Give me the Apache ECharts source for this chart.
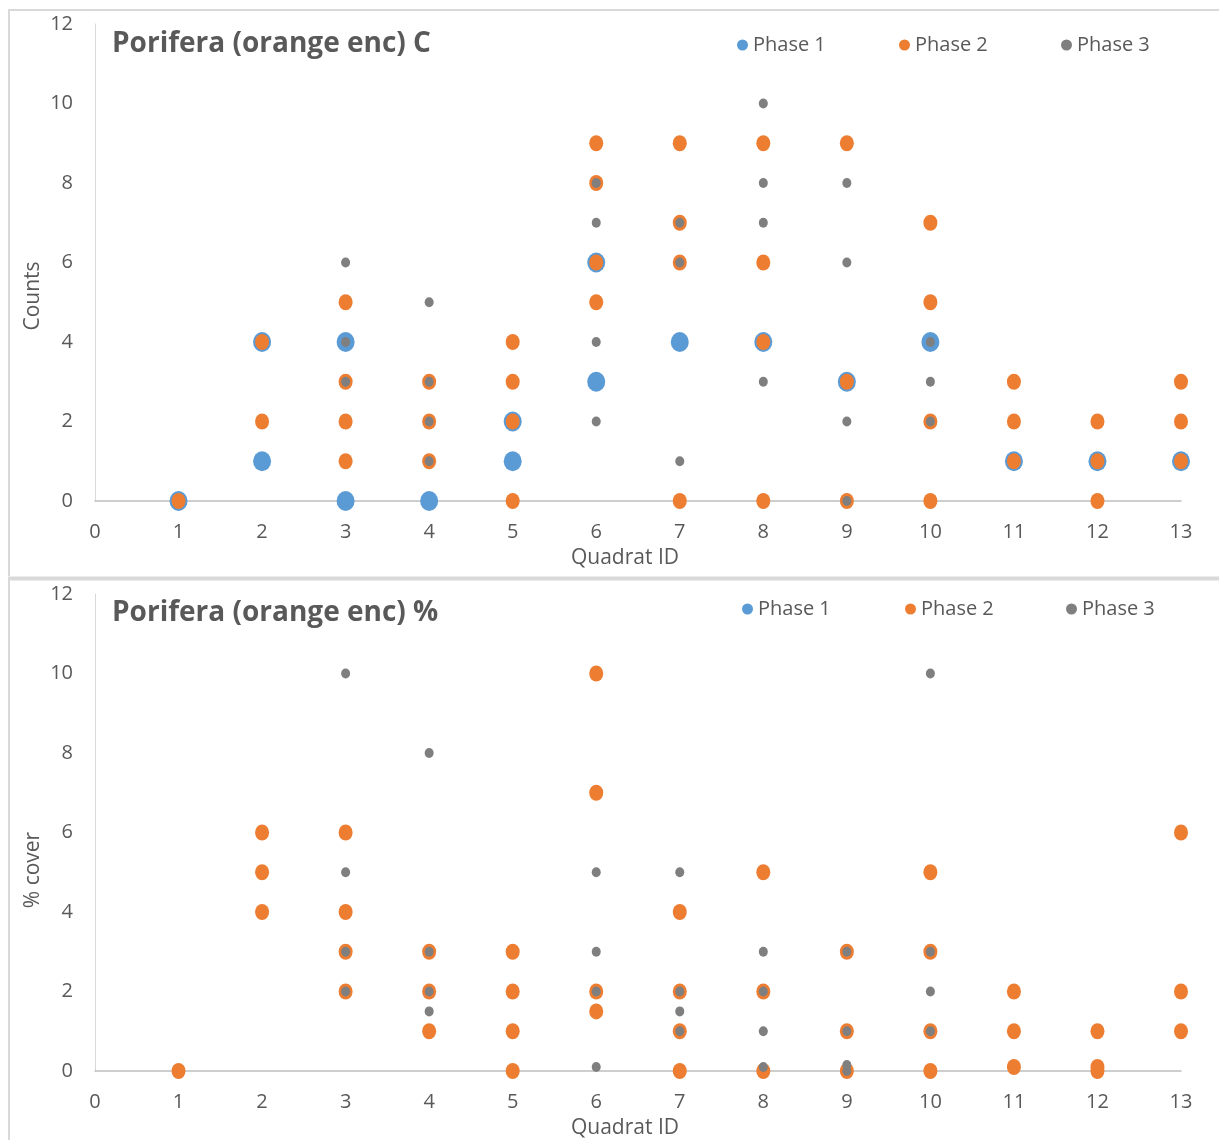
<!DOCTYPE html>
<html>
<head>
<meta charset="utf-8">
<script src="https://cdn.jsdelivr.net/npm/echarts@6/dist/echarts.min.js"></script>
<style>
html,body{margin:0;padding:0;background:#fff;}
#c{width:1219px;height:1140px;}
</style>
</head>
<body>
<div id="c"></div>
<script>
// ---- data ----
var xTicks = [0,1,2,3,4,5,6,7,8,9,10,11,12,13];
var yTicks = [0,2,4,6,8,10,12];
var seriesNames = ['Phase 1','Phase 2','Phase 3'];

// Counts chart: [quadrat, count]
var countsPhase1 = [[1,0],[2,4],[2,1],[3,4],[3,0],[4,0],[5,2],[5,1],[6,6],[6,3],[7,4],[8,4],[9,3],[10,4],[11,1],[12,1],[13,1]];
var countsPhase2 = [[1,0],[2,4],[2,2],[3,5],[3,3],[3,2],[3,1],[4,3],[4,2],[4,1],[5,4],[5,3],[5,2],[5,0],
  [6,9],[6,8],[6,6],[6,5],[7,9],[7,7],[7,6],[7,0],[8,9],[8,6],[8,4],[8,0],[9,9],[9,3],[9,0],
  [10,7],[10,5],[10,2],[10,0],[11,3],[11,2],[11,1],[12,2],[12,1],[12,0],[13,3],[13,2],[13,1]];
var countsPhase3 = [[3,6],[3,4],[3,3],[4,5],[4,3],[4,2],[4,1],[6,8],[6,7],[6,4],[6,2],[7,7],[7,6],[7,1],
  [8,10],[8,8],[8,7],[8,3],[9,8],[9,6],[9,2],[9,0],[10,4],[10,3],[10,2]];

// % cover chart: [quadrat, percent]
var coverPhase1 = [];
var coverPhase2 = [[1,0],[2,6],[2,5],[2,4],[3,6],[3,4],[3,3],[3,2],[4,3],[4,2],[4,1],[5,3],[5,2],[5,1],[5,0],
  [6,10],[6,7],[6,2],[6,1.5],[7,4],[7,2],[7,1],[7,0],[8,5],[8,2],[8,0],[9,3],[9,1],[9,0],
  [10,5],[10,3],[10,1],[10,0],[11,2],[11,1],[11,0.1],[12,1],[12,0.1],[12,0],[13,6],[13,2],[13,1]];
var coverPhase3 = [[3,10],[3,5],[3,3],[3,2],[4,8],[4,3],[4,2],[4,1.5],[6,5],[6,3],[6,2],[6,0.1],
  [7,5],[7,2],[7,1.5],[7,1],[8,3],[8,2],[8,1],[8,0.1],[9,3],[9,1],[9,0.15],[9,0],[10,10],[10,3],[10,2],[10,1]];

var titles = ['Porifera (orange enc) C','Porifera (orange enc) %'];
var yNames = ['Counts','% cover'];
var xName = 'Quadrat ID';

// ---- styles ----
var colors = ['#5B9BD5','#ED7D31','#7F7F7F'];
var sizes = [[18,20],[14,16],[9,10]];
var txt = '#595959';
var font = 'Open Sans';

var chart = echarts.init(document.getElementById('c'), null, {renderer:'canvas'});

var grids = [
  {left:95, right:38, top:24, height:477},
  {left:95, right:38, top:594, height:477}
];

function xAxis(i){
  return {
    type:'value', gridIndex:i, min:0, max:13, interval:1,
    name:xName, nameLocation:'middle', nameGap:47,
    nameTextStyle:{color:txt, fontFamily:font, fontSize:21, padding:[0,26,0,0]},
    axisLine:{show:true, onZero:false, lineStyle:{color:'#bfbfbf', width:1.5}},
    axisTick:{show:false}, splitLine:{show:false},
    axisLabel:{color:txt, fontFamily:font, fontSize:20, margin:21,
      formatter:function(v){ return xTicks.indexOf(v) >= 0 ? String(v) : ''; }}
  };
}
function yAxis(i){
  return {
    type:'value', gridIndex:i, min:0, max:12, interval:2,
    axisLine:{show:true, lineStyle:{color:'#d9d9d9', width:1}},
    axisTick:{show:false}, splitLine:{show:false},
    axisLabel:{color:txt, fontFamily:font, fontSize:20, margin:22,
      formatter:function(v){ return yTicks.indexOf(v) >= 0 ? String(v) : ''; }}
  };
}

var dataSets = [[countsPhase1,countsPhase2,countsPhase3],[coverPhase1,coverPhase2,coverPhase3]];
var series = [];
for (var g=0; g<2; g++){
  for (var s=0; s<3; s++){
    series.push({
      name:seriesNames[s], type:'scatter', xAxisIndex:g, yAxisIndex:g,
      data:dataSets[g][s], symbol:'circle', symbolSize:sizes[s],
      itemStyle:{color:colors[s], opacity:1}, z:2+s, silent:true
    });
  }
}

var legendX = [[737,899,1061],[742,905,1066]];
var legendY = [35,599];
var legends = [];
for (var g2=0; g2<2; g2++){
  for (var k=0; k<3; k++){
    legends.push({
      data:[seriesNames[k]], left:legendX[g2][k], top:legendY[g2], padding:0,
      icon:'circle', itemWidth:11, itemHeight:11, itemGap:6,
      textStyle:{color:txt, fontFamily:font, fontSize:20}, selectedMode:false
    });
  }
}

chart.setOption({
  backgroundColor:'#fff',
  animation:false,
  title:[
    {text:titles[0], left:107, top:25, textStyle:{color:txt, fontFamily:font, fontSize:28, fontWeight:'bold'}},
    {text:titles[1], left:107, top:594, textStyle:{color:txt, fontFamily:font, fontSize:28, fontWeight:'bold'}}
  ],
  legend:legends,
  grid:grids,
  xAxis:[xAxis(0), xAxis(1)],
  yAxis:[yAxis(0), yAxis(1)],
  series:series,
  graphic:[
    {type:'line', shape:{x1:8, y1:10, x2:1219, y2:10}, style:{stroke:'#d9d9d9', lineWidth:2}, silent:true},
    {type:'line', shape:{x1:9, y1:10, x2:9, y2:576}, style:{stroke:'#d9d9d9', lineWidth:2}, silent:true},
    {type:'line', shape:{x1:8, y1:578.5, x2:1219, y2:578.5}, style:{stroke:'#d9d9d9', lineWidth:4}, silent:true},
    {type:'line', shape:{x1:9, y1:580, x2:9, y2:1140}, style:{stroke:'#d9d9d9', lineWidth:2}, silent:true},
    {type:'text', x:33, y:296, rotation:Math.PI/2, silent:true,
      style:{text:yNames[0], fill:txt, font:'21px "Open Sans"', align:'center', verticalAlign:'middle'}},
    {type:'text', x:33, y:870, rotation:Math.PI/2, silent:true,
      style:{text:yNames[1], fill:txt, font:'21px "Open Sans"', align:'center', verticalAlign:'middle'}}
  ]
});
</script>
</body>
</html>
